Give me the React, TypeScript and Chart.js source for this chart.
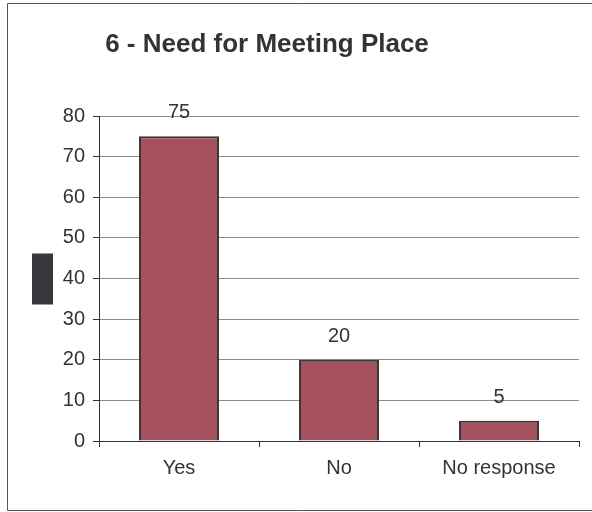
import React, { useEffect, useRef } from "react";
import { Chart, registerables } from "chart.js";

Chart.register(...registerables);

const categories = ["Yes", "No", "No response"];
const values = [75, 20, 5];
const titleText = "6 - Need for Meeting Place";
const yMin = 0;
const yMax = 80;
const yStep = 10;

const FONT = "'Liberation Sans', Arial, sans-serif";

const decorPlugin = {
  id: "decor",
  beforeDraw(chart: any) {
    const ctx = chart.ctx;
    ctx.save();
    ctx.fillStyle = "#ffffff";
    ctx.fillRect(0, 0, chart.width, chart.height);
    ctx.restore();
  },
  afterDraw(chart: any) {
    const ctx = chart.ctx;
    const area = chart.chartArea;
    ctx.save();
    // outer frame
    ctx.strokeStyle = "#555555";
    ctx.lineWidth = 1;
    ctx.beginPath();
    ctx.moveTo(7.5, 510.5);
    ctx.lineTo(7.5, 3.5);
    ctx.lineTo(chart.width + 2, 3.5);
    ctx.moveTo(7.5, 510.5);
    ctx.lineTo(chart.width + 2, 510.5);
    ctx.stroke();
    // title
    ctx.fillStyle = "#333333";
    ctx.font = `bold 26px ${FONT}`;
    ctx.textAlign = "center";
    ctx.textBaseline = "alphabetic";
    ctx.fillText(titleText, 267, 52);
    // axis title block
    const midY = (area.top + area.bottom) / 2;
    ctx.fillStyle = "#37373d";
    ctx.fillRect(area.left - 67, midY - 25, 21, 51);
    // value labels
    const meta = chart.getDatasetMeta(0);
    ctx.font = `20px ${FONT}`;
    ctx.fillStyle = "#333333";
    ctx.textAlign = "center";
    ctx.textBaseline = "alphabetic";
    meta.data.forEach((bar: any, i: number) => {
      ctx.fillText(String(values[i]), bar.x, bar.y - 18);
    });
    ctx.restore();
  },
};

export default function App() {
  const ref = useRef<HTMLCanvasElement>(null);
  useEffect(() => {
    document.body.style.margin = "0";
    const chart = new Chart(ref.current!, {
      type: "bar",
      data: {
        labels: categories,
        datasets: [
          {
            data: values,
            backgroundColor: "#A4505E",
            borderColor: "#383838",
            borderWidth: 2,
            barPercentage: 0.5,
            categoryPercentage: 1,
          },
        ],
      },
      options: {
        responsive: false,
        animation: false,
        devicePixelRatio: 1,
        layout: { padding: { left: 0, right: 13, top: 116, bottom: 26 } },
        plugins: {
          legend: { display: false },
          title: { display: false },
          tooltip: { enabled: false },
        },
        scales: {
          x: {
            grid: {
              drawOnChartArea: false,
              offset: true,
              tickLength: 6,
              color: "#333333",
            },
            border: { color: "#333333", width: 1 },
            ticks: {
              color: "#333333",
              font: { family: FONT, size: 20 },
              padding: 9,
            },
            afterFit(scale: any) {
              scale.height = 45;
            },
          },
          y: {
            min: yMin,
            max: yMax,
            ticks: {
              stepSize: yStep,
              color: "#333333",
              font: { family: FONT, size: 20 },
              padding: 8,
            },
            grid: {
              color: "#8c8c8c",
              tickColor: "#333333",
              tickLength: 6,
            },
            border: { color: "#333333", width: 1 },
            afterFit(scale: any) {
              scale.width = 99;
            },
          },
        },
      },
      plugins: [decorPlugin],
    });
    return () => chart.destroy();
  }, []);
  return <canvas ref={ref} width={592} height={512} style={{ display: "block" }} />;
}
